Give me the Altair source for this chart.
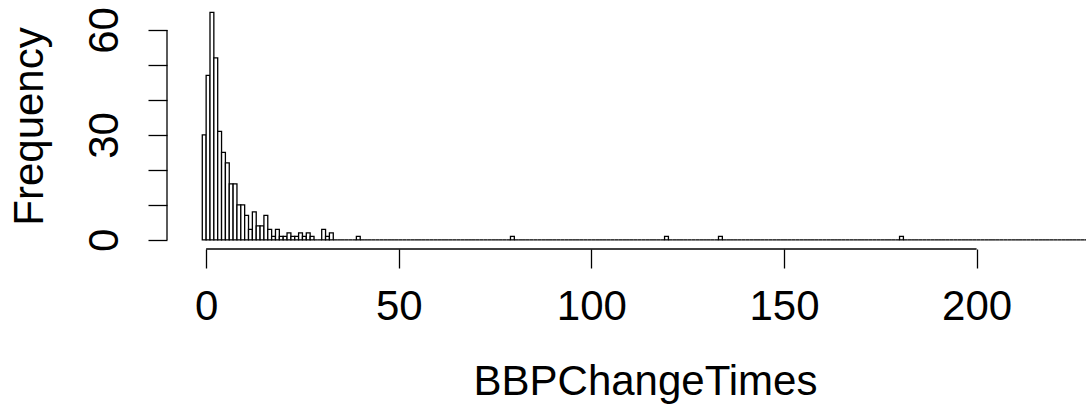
import altair as alt
import pandas as pd

# Histogram of BBPChangeTimes, bins of width 1 starting at -1
main_starts = list(range(-1, 40))
main_counts = [30, 47, 65, 52, 31, 25, 22, 16, 16, 10, 10, 7, 3, 8, 4, 4, 7, 3, 1, 3,
               1, 1, 2, 1, 1, 2, 1, 2, 1, 0, 0, 3, 1, 2, 0, 0, 0, 0, 0, 0, 1]
outlier_starts = [79, 119, 133, 180]
outlier_counts = [1, 1, 1, 1]
last_break = 229
x_ticks = [0, 50, 100, 150, 200]
y_ticks = [0, 10, 20, 30, 40, 50, 60]

counts = {s: c for s, c in zip(main_starts, main_counts)}
counts.update({s: c for s, c in zip(outlier_starts, outlier_counts)})
starts = list(range(-1, last_break))
df = pd.DataFrame({
    "lo": starts,
    "hi": [s + 1 for s in starts],
    "count": [counts.get(s, 0) for s in starts],
})

FONT = "Liberation Sans"
FS = 42

xscale = alt.Scale(domain=[-10.16, 228.4], nice=False, zero=False)
yscale = alt.Scale(domain=[-2.6, 67.68], nice=False, zero=False)

bars = alt.Chart(df).mark_rect(
    fill="white", stroke="black", strokeWidth=1.3, clip=True
).encode(
    x=alt.X("lo:Q", scale=xscale, axis=alt.Axis(
        values=x_ticks, domain=False, grid=False, ticks=True, tickSize=19,
        tickColor="black", tickWidth=1.3, labelFont=FONT, labelFontSize=FS,
        labelColor="black", labelBaseline="alphabetic", labelPadding=51,
        labelFlush=False, labelOverlap=False,
        title="BBPChangeTimes", titleFont=FONT, titleFontSize=FS,
        titleFontWeight="normal", titleColor="black", titleX=478, titleY=145,
        titleAlign="center", titleBaseline="alphabetic")),
    x2="hi:Q",
    y=alt.Y("count:Q", scale=yscale, axis=alt.Axis(
        values=y_ticks, domain=False, grid=False, ticks=True, tickSize=19,
        tickColor="black", tickWidth=1.3, labelFont=FONT, labelFontSize=FS,
        labelColor="black", labelAngle=270, labelAlign="center",
        labelBaseline="alphabetic", labelPadding=31, labelFlush=False,
        labelOverlap=False,
        labelExpr="datum.value % 30 == 0 ? datum.label : ''",
        title="Frequency", titleFont=FONT, titleFontSize=FS,
        titleFontWeight="normal", titleColor="black", titleAngle=270,
        titleX=-125, titleY=123, titleAlign="center",
        titleBaseline="alphabetic")),
    y2=alt.Y2(datum=0),
)

xaxis_line = alt.Chart(pd.DataFrame({"a": [x_ticks[0]], "b": [x_ticks[-1]]})).mark_rule(
    color="black", strokeWidth=1.3
).encode(x=alt.X("a:Q", scale=xscale), x2="b:Q", y=alt.value(246))

yaxis_line = alt.Chart(pd.DataFrame({"a": [y_ticks[0]], "b": [y_ticks[-1]]})).mark_rule(
    color="black", strokeWidth=1.3
).encode(y=alt.Y("a:Q", scale=yscale), y2="b:Q", x=alt.value(0))

chart = alt.layer(bars, xaxis_line, yaxis_line).properties(
    width=919, height=246,
    autosize=alt.AutoSizeParams(type="none"),
    padding={"left": 167, "top": 3, "right": 0, "bottom": 159},
    background="white",
).configure_view(stroke=None)

chart.save("out.html", embed_options={"renderer": "svg", "actions": False})
